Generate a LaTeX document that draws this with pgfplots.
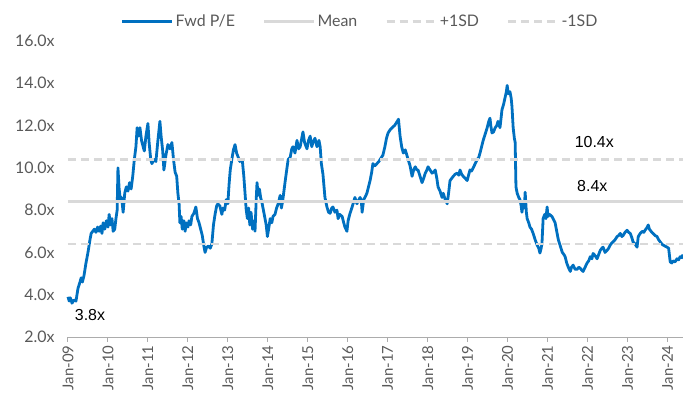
\documentclass[border=0pt]{standalone}
\usepackage{fontspec}
\setmainfont{Lato}
\newfontfamily\annfont{Liberation Sans}
\usepackage{pgfplots}
\pgfplotsset{compat=1.18}

\definecolor{pebar}{HTML}{0070C0}
\definecolor{bandgray}{HTML}{D9D9D9}
\definecolor{labgray}{HTML}{595959}

\begin{document}
\begin{tikzpicture}
% page frame: 683 x 401, axis area starts at (68,337) px from top-left
\path[use as bounding box] (-68bp,-64bp) rectangle (615bp,337bp);
\begin{axis}[
    scale only axis, width=615bp, height=296bp,
    xmin=2009, xmax=2024.39, ymin=2, ymax=16,
    axis x line*=bottom, axis y line*=left,
    y axis line style={draw=none},
    x axis line style={draw=gray!65, line width=1bp},
    tick align=outside, major tick length=5bp,
    xtick={2009,2010,2011,2012,2013,2014,2015,2016,2017,2018,2019,2020,2021,2022,2023,2024},
    xticklabels={Jan-09,Jan-10,Jan-11,Jan-12,Jan-13,Jan-14,Jan-15,Jan-16,Jan-17,Jan-18,Jan-19,Jan-20,Jan-21,Jan-22,Jan-23,Jan-24},
    xtick style={draw=gray!65, line width=1bp},
    x tick label style={rotate=90, anchor=east, text=labgray, font=\fontsize{15}{15}\selectfont},
    ytick={2,4,6,8,10,12,14,16},
    yticklabels={2.0x,4.0x,6.0x,8.0x,10.0x,12.0x,14.0x,16.0x},
    ytick style={draw=none},
    y tick label style={text=labgray, font=\fontsize{16}{16}\selectfont, xshift=-5bp},
    legend columns=4,
    legend style={at={(0.475,1.066)}, anchor=center, draw=none, fill=none,
        font=\fontsize{16}{16}\selectfont, text=labgray,
        /tikz/every even column/.append style={column sep=26bp}},
    legend image code/.code={\draw[#1] (0bp,0bp) -- (50bp,0bp);},
    clip=false,
]
\addplot[pebar, line width=2.8bp, line join=round] coordinates {
(2009.00,3.9) (2009.03,3.7) (2009.06,3.85) (2009.10,3.6) (2009.15,3.75) (2009.20,3.7)
(2009.25,4.3) (2009.30,4.6) (2009.33,4.8) (2009.36,4.6) (2009.40,4.9) (2009.45,5.5)
(2009.50,6.0) (2009.55,6.6) (2009.58,6.9) (2009.62,7.0) (2009.66,7.1) (2009.70,6.95)
(2009.74,7.2) (2009.78,7.0) (2009.82,7.25) (2009.85,6.9) (2009.88,7.4) (2009.92,7.1)
(2009.96,7.5) (2010.00,7.2) (2010.03,7.8) (2010.06,7.3) (2010.10,7.6) (2010.13,7.0)
(2010.17,7.1) (2010.20,7.6) (2010.23,8.0) (2010.25,10.0) (2010.28,9.0) (2010.31,8.5)
(2010.34,8.6) (2010.38,7.9) (2010.42,8.8) (2010.46,9.1) (2010.50,8.9) (2010.54,9.3)
(2010.58,9.0) (2010.62,9.6) (2010.66,10.4) (2010.70,11.0) (2010.73,11.9) (2010.76,11.5)
(2010.80,11.9) (2010.84,11.3) (2010.88,11.0) (2010.91,10.8) (2010.95,11.5) (2011.00,12.1)
(2011.03,11.2) (2011.07,10.4) (2011.10,10.2) (2011.15,10.4) (2011.20,10.3) (2011.25,11.3)
(2011.30,12.2) (2011.33,11.5) (2011.37,10.8) (2011.40,9.9) (2011.45,10.6) (2011.50,11.1)
(2011.55,10.9) (2011.60,11.2) (2011.64,10.4) (2011.68,9.8) (2011.72,9.6) (2011.75,8.8)
(2011.78,8.3) (2011.80,7.4) (2011.83,7.7) (2011.86,7.1) (2011.90,7.5) (2011.93,7.0)
(2011.96,7.4) (2012.00,7.2) (2012.03,7.5) (2012.07,7.3) (2012.10,7.7) (2012.15,7.85)
(2012.20,8.15) (2012.24,7.6) (2012.28,7.4) (2012.32,7.1) (2012.36,6.8) (2012.40,6.3)
(2012.43,6.0) (2012.47,6.25) (2012.52,6.3) (2012.56,6.2) (2012.60,6.4) (2012.64,7.3)
(2012.68,7.8) (2012.72,8.2) (2012.75,8.3) (2012.80,8.2) (2012.85,7.8) (2012.88,8.1)
(2012.92,8.0) (2012.96,8.5) (2013.00,8.3) (2013.03,9.2) (2013.06,9.9) (2013.10,10.4)
(2013.14,10.85) (2013.18,11.1) (2013.22,10.7) (2013.26,10.5) (2013.30,10.3) (2013.36,10.4)
(2013.40,9.6) (2013.43,8.8) (2013.46,8.0) (2013.49,7.6) (2013.52,8.1) (2013.55,7.3)
(2013.58,7.9) (2013.62,7.1) (2013.66,7.5) (2013.68,7.0) (2013.71,8.5) (2013.73,9.3)
(2013.76,8.7) (2013.79,9.0) (2013.82,8.6) (2013.86,8.3) (2013.90,7.9) (2013.93,7.6)
(2013.96,7.3) (2013.99,6.75) (2014.02,7.1) (2014.06,7.6) (2014.10,7.4) (2014.13,7.7)
(2014.18,7.8) (2014.22,8.1) (2014.26,8.3) (2014.31,8.7) (2014.34,8.1) (2014.37,8.4)
(2014.43,9.3) (2014.48,10.0) (2014.51,10.4) (2014.56,10.5) (2014.60,10.9) (2014.63,11.0)
(2014.68,10.7) (2014.73,11.3) (2014.77,10.9) (2014.81,11.0) (2014.85,11.4) (2014.88,11.7)
(2014.92,11.2) (2014.98,10.9) (2015.02,11.3) (2015.06,11.5) (2015.10,11.0) (2015.13,11.2)
(2015.18,11.4) (2015.23,11.0) (2015.28,11.3) (2015.31,11.0) (2015.34,10.2) (2015.38,9.7)
(2015.43,8.6) (2015.48,8.15) (2015.52,7.9) (2015.56,7.85) (2015.60,8.1) (2015.63,8.15)
(2015.68,7.9) (2015.73,8.0) (2015.76,7.6) (2015.80,7.8) (2015.86,7.7) (2015.90,7.4)
(2015.93,7.2) (2015.98,7.0) (2016.01,7.5) (2016.05,7.8) (2016.11,8.15) (2016.15,8.4)
(2016.18,8.6) (2016.23,8.3) (2016.28,8.5) (2016.31,8.6) (2016.34,8.45) (2016.36,7.9)
(2016.40,8.5) (2016.43,8.6) (2016.48,8.8) (2016.56,9.4) (2016.60,9.8) (2016.63,10.2)
(2016.68,10.1) (2016.73,10.2) (2016.78,10.3) (2016.81,10.4) (2016.88,10.6) (2016.93,11.0)
(2016.97,11.4) (2017.01,11.65) (2017.06,11.8) (2017.11,11.9) (2017.17,12.0) (2017.24,12.2)
(2017.27,12.3) (2017.31,11.5) (2017.35,11.0) (2017.39,10.7) (2017.44,10.85) (2017.48,10.6)
(2017.51,10.4) (2017.56,10.1) (2017.61,9.6) (2017.65,9.9) (2017.69,10.05) (2017.73,9.9)
(2017.76,9.9) (2017.81,9.6) (2017.86,9.3) (2017.90,9.5) (2017.94,9.75) (2017.98,9.9)
(2018.01,10.05) (2018.06,9.9) (2018.11,9.75) (2018.15,9.8) (2018.19,9.9) (2018.23,9.5)
(2018.26,9.1) (2018.31,8.9) (2018.36,8.6) (2018.39,8.8) (2018.44,8.5) (2018.49,8.3)
(2018.53,8.9) (2018.56,9.4) (2018.60,9.5) (2018.64,9.6) (2018.69,9.7) (2018.74,9.75)
(2018.78,9.65) (2018.81,9.9) (2018.85,9.7) (2018.89,9.6) (2018.94,9.5) (2018.99,9.4)
(2019.03,9.7) (2019.06,9.9) (2019.10,9.85) (2019.14,10.0) (2019.19,10.2) (2019.24,10.4)
(2019.28,10.5) (2019.31,10.7) (2019.35,11.0) (2019.39,11.3) (2019.44,11.6) (2019.49,11.9)
(2019.53,12.2) (2019.56,12.35) (2019.58,12.0) (2019.61,11.65) (2019.65,11.7) (2019.69,11.9)
(2019.73,12.0) (2019.76,12.2) (2019.81,11.9) (2019.84,12.4) (2019.86,12.75) (2019.90,13.0)
(2019.94,13.35) (2019.97,13.6) (2019.99,13.9) (2020.02,13.5) (2020.06,13.6) (2020.09,13.3)
(2020.11,12.9) (2020.14,11.9) (2020.17,11.4) (2020.19,11.2) (2020.21,9.1) (2020.24,8.8)
(2020.28,8.6) (2020.31,8.5) (2020.34,8.2) (2020.36,7.9) (2020.39,8.3) (2020.42,8.1)
(2020.44,8.85) (2020.47,7.9) (2020.49,7.6) (2020.53,7.4) (2020.56,7.2) (2020.60,7.1)
(2020.64,6.9) (2020.69,6.6) (2020.74,6.35) (2020.78,6.2) (2020.81,5.97) (2020.84,6.2)
(2020.86,6.4) (2020.89,7.6) (2020.93,7.8) (2020.96,7.6) (2020.99,8.15) (2021.01,7.7)
(2021.05,7.8) (2021.11,7.7) (2021.15,7.55) (2021.19,7.4) (2021.23,7.0) (2021.27,6.6)
(2021.32,6.3) (2021.37,6.0) (2021.41,5.9) (2021.44,5.8) (2021.48,5.5) (2021.52,5.3)
(2021.57,5.1) (2021.60,5.3) (2021.64,5.4) (2021.69,5.2) (2021.74,5.2) (2021.78,5.3)
(2021.82,5.25) (2021.86,5.15) (2021.89,5.1) (2021.94,5.3) (2021.99,5.5) (2022.03,5.6)
(2022.07,5.8) (2022.11,5.7) (2022.14,5.95) (2022.19,5.85) (2022.24,5.7) (2022.28,5.9)
(2022.32,6.1) (2022.36,6.2) (2022.39,6.25) (2022.44,6.0) (2022.49,6.1) (2022.53,6.2)
(2022.57,6.35) (2022.61,6.45) (2022.64,6.5) (2022.69,6.6) (2022.74,6.75) (2022.78,6.8)
(2022.82,6.9) (2022.86,6.75) (2022.89,6.8) (2022.94,6.95) (2022.99,7.05) (2023.03,6.95)
(2023.07,6.9) (2023.11,6.7) (2023.14,6.5) (2023.19,6.4) (2023.24,6.25) (2023.27,6.75)
(2023.32,6.9) (2023.37,7.0) (2023.41,6.95) (2023.44,7.05) (2023.48,7.15) (2023.52,7.3)
(2023.55,7.1) (2023.57,7.05) (2023.61,6.95) (2023.64,6.9) (2023.69,6.8) (2023.74,6.75)
(2023.78,6.6) (2023.82,6.5) (2023.86,6.4) (2023.89,6.35) (2023.94,6.3) (2023.99,6.25)
(2024.03,6.2) (2024.07,5.55) (2024.11,5.5) (2024.14,5.6) (2024.19,5.55) (2024.24,5.7)
(2024.28,5.65) (2024.32,5.8) (2024.36,5.75) (2024.39,5.9)
};
\addlegendentry{Fwd P/E}
\addplot[bandgray, line width=2.5bp] coordinates {(2009,8.4) (2024.39,8.4)};
\addlegendentry{Mean}
\addplot[bandgray, line width=2.5bp, dash pattern=on 8bp off 5bp] coordinates {(2009,10.4) (2024.39,10.4)};
\addlegendentry{+1SD}
\addplot[bandgray, line width=2.5bp, dash pattern=on 8bp off 5bp] coordinates {(2009,6.4) (2024.39,6.4)};
\addlegendentry{-1SD}

\node[font=\annfont\fontsize{16}{16}\selectfont] at (axis cs:2009.55,3.04) {3.8x};
\node[font=\annfont\fontsize{16}{16}\selectfont] at (axis cs:2022.17,11.22) {10.4x};
\node[font=\annfont\fontsize{16}{16}\selectfont] at (axis cs:2022.12,9.14) {8.4x};
\end{axis}
\end{tikzpicture}
\end{document}
